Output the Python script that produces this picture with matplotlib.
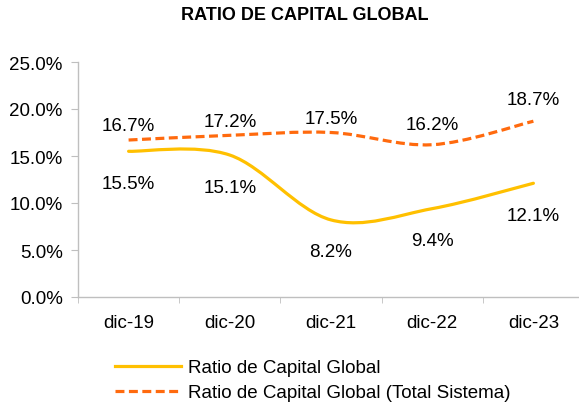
import numpy as np
import matplotlib
matplotlib.use("Agg")
import matplotlib.pyplot as plt
from matplotlib.path import Path
from matplotlib.patches import PathPatch
from matplotlib.lines import Line2D
from matplotlib.ticker import FuncFormatter

plt.rcParams['font.family'] = ['Liberation Sans', 'DejaVu Sans']

categories = ["dic-19", "dic-20", "dic-21", "dic-22", "dic-23"]
ratio_global = [15.5, 15.1, 8.2, 9.4, 12.1]
ratio_sistema = [16.7, 17.2, 17.5, 16.2, 18.7]
series_names = ["Ratio de Capital Global", "Ratio de Capital Global (Total Sistema)"]
title = "RATIO DE CAPITAL GLOBAL"

W, H = 579, 406
fig = plt.figure(figsize=(W / 100, H / 100), dpi=100)
ax = fig.add_axes([78 / W, 108 / H, (584 - 78) / W, (298 - 63) / H])

GOLD = "#FFC000"
ORANGE = "#FF6A0E"
GRAY = "#BFBFBF"
FS = 13.5
DASH = (0, (2.8, 1.4))


def smooth_path(xs, ys):
    # Excel-like smoothed line: cubic Bezier through points (Catmull-Rom)
    pts = np.column_stack([xs, ys]).astype(float)
    n = len(pts)
    verts = [pts[0]]
    codes = [Path.MOVETO]
    for i in range(n - 1):
        p0 = pts[i - 1] if i > 0 else pts[i]
        p1 = pts[i]
        p2 = pts[i + 1]
        p3 = pts[i + 2] if i + 2 < n else pts[i + 1]
        c1 = p1 + (p2 - p0) / 6.0
        c2 = p2 - (p3 - p1) / 6.0
        verts += [c1, c2, p2]
        codes += [Path.CURVE4] * 3
    return Path(verts, codes)


x = np.arange(len(categories))
lw = 2.3
ax.add_patch(PathPatch(smooth_path(x, ratio_global), fill=False, edgecolor=GOLD,
                       lw=lw, capstyle='round', joinstyle='round'))
ax.add_patch(PathPatch(smooth_path(x, ratio_sistema), fill=False, edgecolor=ORANGE,
                       lw=lw, linestyle=DASH, capstyle='butt'))

ax.set_xlim(-0.5, len(categories) - 0.5)
ax.set_ylim(0, 25)
ax.set_yticks(np.arange(0, 25.1, 5))
ax.yaxis.set_major_formatter(FuncFormatter(lambda v, p: f"{v:.1f}%"))
ax.set_xticks(x)
ax.set_xticklabels(categories)
ax.set_xticks(np.arange(-0.5, len(categories), 1.0), minor=True)

for s in ["top", "right"]:
    ax.spines[s].set_visible(False)
for s in ["left", "bottom"]:
    ax.spines[s].set_color(GRAY)
    ax.spines[s].set_linewidth(1.0)

ax.tick_params(axis='y', length=5, color=GRAY, labelsize=FS, pad=6, labelcolor="#000000")
ax.tick_params(axis='x', which='major', length=0, labelsize=FS, pad=12, labelcolor="#000000")
ax.tick_params(axis='x', which='minor', length=4, color=GRAY)

sistema_offsets = [15, 14, 13.5, 20, 22]
global_offset = 32
for xi, v, off in zip(x, ratio_sistema, sistema_offsets):
    ax.annotate(f"{v:.1f}%", (xi, v), xytext=(0, off * 0.72), textcoords='offset points',
                ha='center', va='center', fontsize=FS, annotation_clip=False)
for xi, v in zip(x, ratio_global):
    ax.annotate(f"{v:.1f}%", (xi, v), xytext=(0, -global_offset * 0.72), textcoords='offset points',
                ha='center', va='center', fontsize=FS, annotation_clip=False)

fig.text(305 / W, 1 - 16 / H, title, ha='center', va='center', fontsize=13, fontweight='bold')

handles = [Line2D([], [], color=GOLD, lw=lw),
           Line2D([], [], color=ORANGE, lw=lw, linestyle=DASH)]
fig.legend(handles, series_names, loc='center left', bbox_to_anchor=(115 / W, 1 - 381 / H),
           frameon=False, fontsize=FS, handlelength=3.5, handletextpad=0.42,
           borderpad=0, borderaxespad=0, labelspacing=0.42)

fig.savefig("out.png", dpi=100)
